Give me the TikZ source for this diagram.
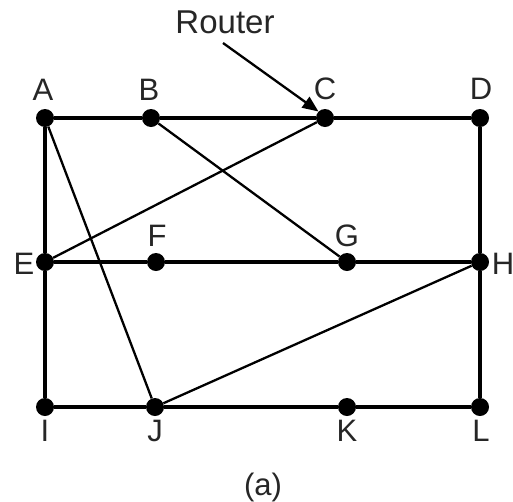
\documentclass[tikz,border=0pt]{standalone}
\usepackage{fontspec}
\setmainfont{Liberation Sans}
\usetikzlibrary{arrows.meta}
\begin{document}
\begin{tikzpicture}[x=1pt,y=-1pt,
  router/.style={circle,fill=black,inner sep=0pt,minimum size=18pt},
  lbl/.style={font=\fontsize{31}{34}\selectfont,text=black!85,inner sep=0pt},
  main/.style={line width=3.6pt},
  diag/.style={line width=2.3pt}]
\useasboundingbox (0,0) rectangle (513,501);
\node[router] (A) at (45,118) {};
\node[router] (B) at (151,118) {};
\node[router] (C) at (325,118) {};
\node[router] (D) at (480,118) {};
\node[router] (E) at (45,262) {};
\node[router] (F) at (156,262) {};
\node[router] (G) at (347,262) {};
\node[router] (H) at (480,262) {};
\node[router] (I) at (45,407) {};
\node[router] (J) at (155,407) {};
\node[router] (K) at (347,407) {};
\node[router] (L) at (480,407) {};
\node[lbl] (lA) at (43,90) {A};
\node[lbl] (lB) at (149,90) {B};
\node[lbl] (lC) at (325,89) {C};
\node[lbl] (lD) at (481,89) {D};
\node[lbl] (lE) at (24,264) {E};
\node[lbl] (lF) at (157,236) {F};
\node[lbl] (lG) at (347,236) {G};
\node[lbl] (lH) at (503,264) {H};
\node[lbl] (lI) at (45,431) {I};
\node[lbl] (lJ) at (155,431) {J};
\node[lbl] (lK) at (347,431) {K};
\node[lbl] (lL) at (481,431) {L};
\node[lbl] (cap) at (263,487) {(a)};
\node[lbl,font=\fontsize{33}{36}\selectfont] (rt) at (225,22) {Router};
\draw[main] (A) -- (B) -- (C) -- (D);
\draw[main] (E) -- (F) -- (G) -- (H);
\draw[main] (I) -- (J) -- (K) -- (L);
\draw[main] (A) -- (E) -- (I);
\draw[main] (D) -- (H) -- (L);
\draw[diag] (A) -- (J);
\draw[diag] (B) -- (G);
\draw[diag] (E) -- (C);
\draw[diag] (J) -- (H);
\coordinate (rs) at (223,43);
\draw[diag,-{Triangle[length=16pt,width=13pt]}] (rs) -- (C.north west);
\end{tikzpicture}
\end{document}
